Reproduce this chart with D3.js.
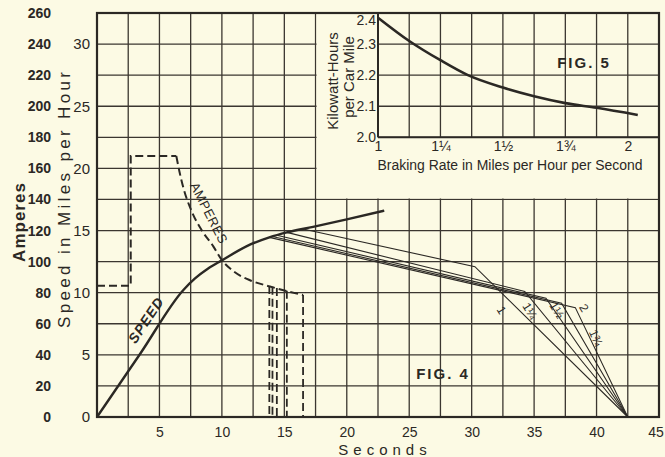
<!DOCTYPE html>
<html><head><meta charset="utf-8">
<script src="https://cdn.jsdelivr.net/npm/d3@7"></script>
<style>
html,body{margin:0;padding:0;background:#fcfae4;}
svg{display:block;}
text{font-family:"Liberation Sans",Arial,sans-serif;fill:#2b2824;}
</style></head><body>
<svg id="c" width="665" height="457"></svg>
<script>
// ---------- data ----------
const secondsTicks = [5,10,15,20,25,30,35,40,45];
const speedTicks = [0,5,10,15,20,25,30];
const ampereTicks = [0,20,40,60,80,100,120,140,160,180,200,220,240,260];

// speed (mph) vs time (s) during acceleration
const speedTime  = [0, 3.5, 6.9, 7.85, 8.9, 10, 12, 13.8, 15.2, 17.3, 20, 23];
const speedValue = [0, 5.15, 10.2, 11.15, 11.95, 12.6, 13.75, 14.45, 14.85, 15.3, 15.9, 16.6];

// amperes vs time (s)
const ampStepTime  = [0, 2.7, 2.7, 6.35];
const ampStepValue = [84.5, 84.5, 168, 168];
const ampCurveTime  = [6.35, 6.6, 6.9, 7.6, 8.4, 9.3, 10, 10.9, 12.25, 13.85, 15.45, 16.5];
const ampCurveValue = [168, 158, 148, 132, 120, 110, 101, 94, 88, 84, 80.5, 78.5];

// braking runs (one per braking rate)
const brakingRates      = ["1", "1¼", "1½", "1¾", "2"];
const cutoffTimes       = [16.5, 15.2, 14.4, 14.05, 13.8];
const cutoffSpeeds      = [15.13, 14.85, 14.62, 14.52, 14.45];
const cutoffAmps        = [78.5, 81.3, 83, 83.9, 84.3];
const brakeStartTimes   = [30.26, 34.25, 35.95, 37.2, 38.3];
const brakeStartSpeeds  = [12.09, 10.1, 9.55, 9.15, 8.8];
const stopTime = 42.5;
const rateLabelTime  = [32.4, 34.67, 36.83, 39.95, 39.0];
const rateLabelSpeed = [8.6, 8.53, 8.6, 6.36, 8.77];

// Fig. 5
const fig5Rate = [1.0, 1.125, 1.25, 1.36, 1.5, 1.625, 1.75, 1.875, 2.04];
const fig5Kwh  = [2.385, 2.31, 2.248, 2.2, 2.16, 2.132, 2.11, 2.095, 2.072];
const fig5XTicks = [1, 1.25, 1.5, 1.75, 2];
const fig5XLabels = ["1", "1¼", "1½", "1¾", "2"];
const fig5YTicks = [2.0, 2.1, 2.2, 2.3, 2.4];

// ---------- drawing ----------
const INK = "#2b2824", GRID = "#3b3630", BG = "#fcfae4", TXT = "#3a3631";
const svg = d3.select("#c");
svg.append("rect").attr("width",665).attr("height",457).attr("fill",BG);

const x  = d3.scaleLinear().domain([0,45]).range([97,659]);
const y  = d3.scaleLinear().domain([0,32.5]).range([417,13]);
const yA = d3.scaleLinear().domain([0,260]).range([417,13]);
const xi = d3.scaleLinear().domain([1,2.125]).range([x(22.5), x(45)]);
const yi = d3.scaleLinear().domain([2.0,2.4]).range([y(22.5), y(32.5)]);

// main grid
const grid = svg.append("g").attr("stroke",GRID).attr("stroke-width",1.3);
grid.selectAll("line.v").data(d3.range(0,45.01,2.5)).join("line")
  .attr("x1",d=>x(d)).attr("x2",d=>x(d)).attr("y1",y(0)).attr("y2",y(32.5));
grid.selectAll("line.h").data(d3.range(0,32.51,2.5)).join("line")
  .attr("x1",x(0)).attr("x2",x(45)).attr("y1",d=>y(d)).attr("y2",d=>y(d));

// inset mask + inset grid
svg.append("rect").attr("x",x(17.5)+1).attr("y",y(32.5)+1)
  .attr("width",x(45)-x(17.5)-2).attr("height",y(17.5)-y(32.5)-2).attr("fill",BG);
const ig = svg.append("g").attr("stroke",GRID).attr("stroke-width",1.3);
ig.selectAll("line.v").data(d3.range(1,2.126,0.125)).join("line")
  .attr("x1",d=>xi(d)).attr("x2",d=>xi(d)).attr("y1",yi(2.0)).attr("y2",yi(2.4));
ig.selectAll("line.h").data(d3.range(2.0,2.401,0.1)).join("line")
  .attr("x1",xi(1)).attr("x2",xi(2.125)).attr("y1",d=>yi(d)).attr("y2",d=>yi(d));
svg.append("line").attr("x1",xi(1)).attr("x2",xi(1)).attr("y1",yi(2.0)).attr("y2",yi(2.4))
  .attr("stroke",INK).attr("stroke-width",2);
svg.append("line").attr("x1",xi(1)).attr("x2",xi(2.125)).attr("y1",yi(2.0)).attr("y2",yi(2.0))
  .attr("stroke",INK).attr("stroke-width",2);

// border
svg.append("rect").attr("x",x(0)).attr("y",y(32.5)).attr("width",x(45)-x(0)).attr("height",y(0)-y(32.5))
  .attr("fill","none").attr("stroke",INK).attr("stroke-width",2.2);

// speed curve
const lineS = d3.line().x(d=>x(d[0])).y(d=>y(d[1])).curve(d3.curveMonotoneX);
svg.append("path").datum(speedTime.map((t,i)=>[t,speedValue[i]]))
  .attr("d",lineS).attr("fill","none").attr("stroke",INK).attr("stroke-width",2.4);

// coasting + braking lines
const lineL = d3.line().x(d=>x(d[0])).y(d=>y(d[1]));
brakingRates.forEach((r,i)=>{
  svg.append("path").datum([[cutoffTimes[i],cutoffSpeeds[i]],[brakeStartTimes[i],brakeStartSpeeds[i]],[stopTime,0]])
    .attr("d",lineL).attr("fill","none").attr("stroke",INK).attr("stroke-width",1.1);
});

// amperes (dashed)
const lineA = d3.line().x(d=>x(d[0])).y(d=>yA(d[1]));
const dash = "8,4";
svg.append("path").datum(ampStepTime.map((t,i)=>[t,ampStepValue[i]]))
  .attr("d",lineA).attr("fill","none").attr("stroke",INK).attr("stroke-width",2).attr("stroke-dasharray",dash);
svg.append("path").datum(ampCurveTime.map((t,i)=>[t,ampCurveValue[i]]))
  .attr("d",lineA.curve(d3.curveMonotoneX)).attr("fill","none").attr("stroke",INK).attr("stroke-width",2).attr("stroke-dasharray",dash);
cutoffTimes.forEach((t,i)=>{
  svg.append("line").attr("x1",x(t)).attr("x2",x(t)).attr("y1",yA(cutoffAmps[i])).attr("y2",yA(0))
    .attr("stroke",INK).attr("stroke-width",1.8).attr("stroke-dasharray",dash);
});

// rate labels
brakingRates.forEach((r,i)=>{
  const px = x(rateLabelTime[i]), py = y(rateLabelSpeed[i]);
  svg.append("text").attr("transform",`translate(${px},${py}) rotate(${i===3?66:58})`)
    .attr("text-anchor","middle").attr("dy","0.35em").attr("font-size",12).text(r);
});

// curve labels
svg.append("text").attr("transform","translate(146,320) rotate(-56)")
  .attr("text-anchor","middle").attr("dy","0.35em").attr("font-size",14).attr("font-weight","bold")
  .attr("font-style","italic").attr("letter-spacing",1).text("SPEED");
svg.append("text").attr("transform","translate(209,213) rotate(63)")
  .attr("text-anchor","middle").attr("dy","0.35em").attr("font-size",13)
  .attr("letter-spacing",0.5).text("AMPERES");
svg.append("text").attr("x",443).attr("y",379).attr("text-anchor","middle")
  .attr("font-size",15).attr("font-weight","bold").attr("letter-spacing",2).text("FIG. 4");
svg.append("text").attr("x",584).attr("y",68).attr("text-anchor","middle")
  .attr("font-size",15).attr("font-weight","bold").attr("letter-spacing",2).text("FIG. 5");

// main axes
const ax1 = svg.append("g").attr("transform","translate(51,0)")
  .call(d3.axisLeft(yA).tickValues(ampereTicks).tickSize(0).tickPadding(0));
ax1.select(".domain").remove();
ax1.selectAll("text").attr("font-size",14).attr("font-weight","bold").attr("font-family","Liberation Sans").attr("fill",INK);
const ax2 = svg.append("g").attr("transform","translate(90,0)")
  .call(d3.axisLeft(y).tickValues(speedTicks).tickSize(0).tickPadding(0));
ax2.select(".domain").remove();
ax2.selectAll("text").attr("font-size",15).attr("font-family","Liberation Sans").attr("fill",TXT);
const ax3 = svg.append("g").attr("transform",`translate(0,${y(0)})`)
  .call(d3.axisBottom(x).tickValues(secondsTicks).tickSize(0).tickPadding(10));
ax3.select(".domain").remove();
ax3.selectAll("text").attr("font-size",14).attr("font-family","Liberation Sans").attr("fill",TXT)
  .attr("text-anchor",d=>d===45?"end":"middle").attr("dx",d=>d===45?"0.3em":0);

svg.append("text").attr("transform","translate(19,222) rotate(-90)").attr("text-anchor","middle")
  .attr("dy","0.35em").attr("font-size",17).attr("font-weight","bold").attr("letter-spacing",1).text("Amperes");
svg.append("text").attr("transform","translate(64,200) rotate(-90)").attr("text-anchor","middle")
  .attr("dy","0.35em").attr("font-size",17).attr("textLength",256).attr("lengthAdjust","spacing")
  .text("Speed in Miles per Hour");
svg.append("text").attr("x",385).attr("y",455).attr("text-anchor","middle")
  .attr("font-size",15).attr("letter-spacing",5).text("Seconds");

// inset axes
const ia1 = svg.append("g").attr("transform",`translate(${xi(1)-2},0)`)
  .call(d3.axisLeft(yi).tickValues(fig5YTicks).tickFormat(d3.format(".1f")).tickSize(0).tickPadding(0));
ia1.select(".domain").remove();
ia1.selectAll("text").attr("font-size",14).attr("font-family","Liberation Sans").attr("fill",TXT)
  .attr("dy",d=>d===2.4?"0.85em":"0.32em");
const ia2 = svg.append("g").attr("transform",`translate(0,${yi(2.0)})`)
  .call(d3.axisBottom(xi).tickValues(fig5XTicks).tickFormat((d,i)=>fig5XLabels[i]).tickSize(0).tickPadding(4));
ia2.select(".domain").remove();
ia2.selectAll("text").attr("font-size",14).attr("font-family","Liberation Sans").attr("fill",TXT);
svg.append("text").attr("x",510).attr("y",170).attr("text-anchor","middle").attr("font-size",14)
  .attr("textLength",265).attr("lengthAdjust","spacingAndGlyphs").text("Braking Rate in Miles per Hour per Second");
svg.append("text").attr("transform","translate(333,81) rotate(-90)").attr("text-anchor","middle")
  .attr("dy","0.35em").attr("font-size",15).text("Kilowatt-Hours");
svg.append("text").attr("transform","translate(349,77) rotate(-90)").attr("text-anchor","middle")
  .attr("dy","0.35em").attr("font-size",15).text("per Car Mile");

// Fig.5 curve
const lineI = d3.line().x(d=>xi(d[0])).y(d=>yi(d[1])).curve(d3.curveMonotoneX);
svg.append("path").datum(fig5Rate.map((r,i)=>[r,fig5Kwh[i]]))
  .attr("d",lineI).attr("fill","none").attr("stroke",INK).attr("stroke-width",2.6);
</script>
</body></html>
